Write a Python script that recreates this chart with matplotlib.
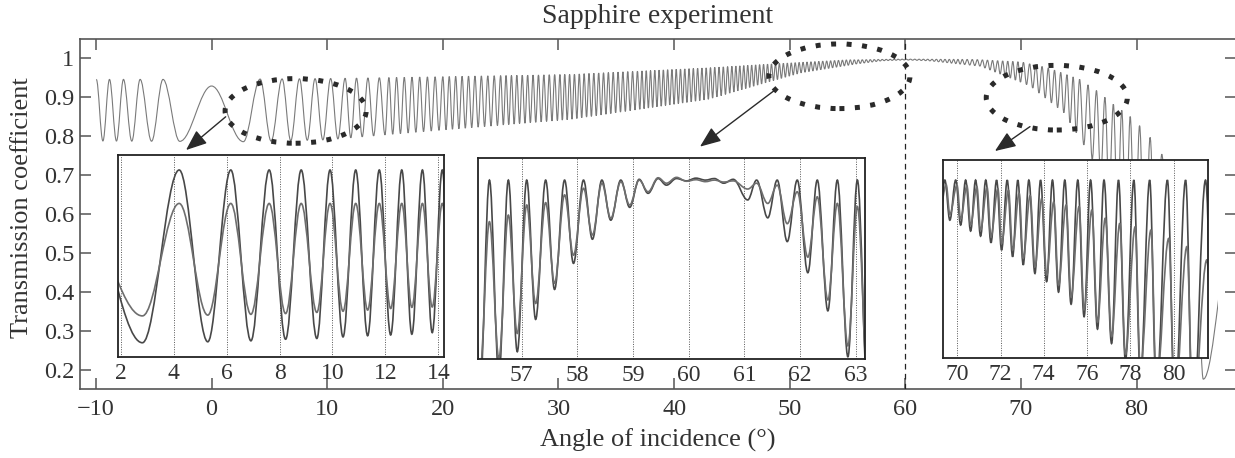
import numpy as np
import matplotlib
matplotlib.use("Agg")
import matplotlib.pyplot as plt
from matplotlib.path import Path
from matplotlib.patches import PathPatch, Ellipse, FancyArrowPatch, Rectangle

plt.rcParams['font.family'] = ['Liberation Serif', 'DejaVu Serif']
plt.rcParams['axes.unicode_minus'] = True

# ---------------- data ----------------
title = "Sapphire experiment"
x_label = "Angle of incidence (°)"
y_label = "Transmission coefficient"

x_ticks = [-10, 0, 10, 20, 30, 40, 50, 60, 70, 80]
y_ticks = [0.2, 0.3, 0.4, 0.5, 0.6, 0.7, 0.8, 0.9, 1.0]
y_tick_labels = ["0.2", "0.3", "0.4", "0.5", "0.6", "0.7", "0.8", "0.9", "1"]

# main curve: fringe order (peaks at integer orders, troughs at half orders)
# read at anchor angles
main_order = [-5, -4, -3, -2, -1, -0.5, 0, 0.5, 1, 2, 3, 4, 5, 6, 9.5, 17, 26,
              36.7, 53.4, 75, 89.6, 104.3, 118.8, 132.2, 143.6, 152.9, 159,
              160, 161, 162, 164.5, 165]
main_order_angle = [-9.97, -8.83, -7.62, -6.18, -4.2, -2.75, 0, 2.75, 4.2, 6.1,
                    7.6, 8.95, 10.3, 11.55, 15, 20, 25, 30, 37, 45, 50, 55, 60,
                    65, 70, 75, 79.45, 80.26, 81.17, 82.18, 85.77, 88.3]
main_first_order = -5
main_last_order = 165
main_end_angle = 87.0
# envelope of the maxima / minima
main_upper_angle = [-10, -1, 0, 1, 10, 20, 31, 43, 48, 55, 60, 66, 70, 72.3,
                    75.1, 76.6, 78, 79.4, 80.3, 81.2, 82.2, 85, 88.5]
main_upper = [0.945, 0.945, 0.928, 0.945, 0.947, 0.952, 0.958, 0.975, 0.984,
              0.995, 0.997, 0.996, 0.99, 0.975, 0.945, 0.915, 0.881, 0.851,
              0.825, 0.795, 0.752, 0.66, 0.55]
main_lower_angle = [-10, 3, 10, 20, 31, 43, 48, 51, 55.6, 58, 60, 62, 66.5,
                    70.8, 73.7, 76, 80, 84, 85.8, 88.5]
main_lower = [0.787, 0.785, 0.79, 0.815, 0.842, 0.894, 0.937, 0.962, 0.984,
              0.993, 0.995, 0.993, 0.979, 0.928, 0.86, 0.75, 0.5, 0.25, 0.174,
              0.15]
brewster_angle = 60

# inset 1 (2-14 deg): alternating extrema
ins1_ticks = [2, 4, 6, 8, 10, 12, 14]
ins1_angle = [0.5, 2.82, 4.21, 5.29, 6.16, 6.92, 7.61, 8.23, 8.82, 9.41, 9.91,
              10.40, 10.88, 11.33, 11.77, 12.20, 12.62, 13.0, 13.40, 13.77,
              14.15, 14.5]
ins1_dark = [0.665, 0.270, 0.714, 0.2725, 0.714, 0.275, 0.714, 0.279, 0.714,
             0.281, 0.714, 0.285, 0.714, 0.288, 0.714, 0.290, 0.714, 0.292,
             0.714, 0.296, 0.714, 0.300]
ins1_light = [0.596, 0.339, 0.628, 0.341, 0.628, 0.343, 0.628, 0.345, 0.628,
              0.348, 0.628, 0.351, 0.628, 0.354, 0.628, 0.358, 0.628, 0.361,
              0.628, 0.362, 0.628, 0.365]

# inset 2 (57-63 deg)
ins2_ticks = [57, 58, 59, 60, 61, 62, 63]
ins2_angle = [56.08, 56.25, 56.42, 56.59, 56.76, 56.92, 57.09, 57.25, 57.43,
              57.59, 57.77, 57.93, 58.11, 58.27, 58.44, 58.60, 58.78, 58.94,
              59.11, 59.27, 59.45, 59.60, 59.78, 59.96, 60.13, 60.30, 60.46,
              60.63, 60.80, 61.06, 61.22, 61.42, 61.59, 61.77, 61.95, 62.14,
              62.31, 62.50, 62.67, 62.86, 63.03, 63.22]
ins2_dark = [0.688, 0.15, 0.688, 0.19, 0.688, 0.247, 0.688, 0.330, 0.688, 0.407,
             0.688, 0.474, 0.688, 0.536, 0.688, 0.585, 0.688, 0.618, 0.690,
             0.654, 0.692, 0.675, 0.692, 0.686, 0.693, 0.688, 0.692, 0.680,
             0.690, 0.637, 0.688, 0.591, 0.688, 0.530, 0.688, 0.450, 0.688,
             0.352, 0.688, 0.234, 0.688, 0.12]
ins2_light = [0.57, 0.20, 0.581, 0.23, 0.598, 0.294, 0.624, 0.371, 0.630, 0.423,
              0.650, 0.495, 0.667, 0.547, 0.680, 0.590, 0.684, 0.624, 0.688,
              0.658, 0.694, 0.680, 0.695, 0.685, 0.689, 0.684, 0.688, 0.683,
              0.686, 0.665, 0.680, 0.628, 0.675, 0.576, 0.658, 0.490, 0.645,
              0.380, 0.628, 0.262, 0.620, 0.16]

# inset 3 (70-80 deg)
ins3_ticks = [70, 72, 74, 76, 78, 80]
ins3_angle = [69.20, 69.43, 69.66, 69.93, 70.16, 70.39, 70.62, 70.85, 71.08,
              71.32, 71.56, 71.82, 72.05, 72.31, 72.56, 72.80, 73.05, 73.31,
              73.59, 73.85, 74.13, 74.40, 74.68, 74.97, 75.26, 75.57, 75.86,
              76.16, 76.48, 76.78, 77.13, 77.45, 77.77, 78.16, 78.46, 78.89,
              79.20, 79.71, 80.05, 80.55, 80.89, 81.47, 81.90]
ins3_dark = [0.60, 0.688, 0.585, 0.688, 0.5725, 0.688, 0.557, 0.688, 0.544,
             0.688, 0.527, 0.688, 0.508, 0.688, 0.491, 0.688, 0.470, 0.688,
             0.448, 0.688, 0.427, 0.688, 0.400, 0.688, 0.369, 0.688, 0.337,
             0.688, 0.305, 0.688, 0.268, 0.688, 0.225, 0.688, 0.18, 0.688,
             0.14, 0.688, 0.10, 0.688, 0.06, 0.688, 0.02]
ins3_light = [0.61, 0.676, 0.60, 0.675, 0.588, 0.673, 0.573, 0.671, 0.56,
              0.669, 0.543, 0.666, 0.525, 0.662, 0.508, 0.654, 0.487, 0.648,
              0.465, 0.641, 0.444, 0.632, 0.418, 0.624, 0.387, 0.620, 0.355,
              0.611, 0.323, 0.590, 0.286, 0.577, 0.24, 0.568, 0.20, 0.560,
              0.16, 0.538, 0.12, 0.517, 0.08, 0.483, 0.04]
ins3_light_peak_shift = 0.06

# ---------------- helpers ----------------
def extrema_path(xs, ys, k=0.3642):
    """Smooth path through alternating extrema (horizontal tangents)."""
    verts = [(xs[0], ys[0])]
    codes = [Path.MOVETO]
    for x0, y0, x1, y1 in zip(xs[:-1], ys[:-1], xs[1:], ys[1:]):
        d = x1 - x0
        verts += [(x0 + k * d, y0), (x1 - k * d, y1), (x1, y1)]
        codes += [Path.CURVE4] * 3
    return Path(verts, codes)


TXT = '#333333'
W, H = 1235, 458
fig = plt.figure(figsize=(W / 100, H / 100), dpi=100)

def fig_rect(l, t, r, b):
    return [l / W, 1 - b / H, (r - l) / W, (b - t) / H]

# ---------------- main axes ----------------
ax = fig.add_axes(fig_rect(80, 38.5, 1236, 389))
ax.set_xlim(-11.38, 88.6)
ax.set_ylim(0.15, 1.05)

orders = np.arange(main_first_order, main_last_order + 0.25, 0.5)
m_ang = np.interp(orders, main_order, main_order_angle)
is_peak = np.isclose(orders % 1, 0)
m_val = np.where(is_peak, np.interp(m_ang, main_upper_angle, main_upper),
                 np.interp(m_ang, main_lower_angle, main_lower))
main_patch = PathPatch(extrema_path(m_ang, m_val), fill=False,
                       edgecolor='#7a7a7a', lw=0.8, zorder=2)
ax.add_patch(main_patch)
clip = Rectangle((-20, 0.15), main_end_angle + 20, 0.9, transform=ax.transData)
main_patch.set_clip_path(clip)

ax.axvline(brewster_angle, color='#222222', lw=0.9, ls=(0, (4.5, 3.5)), zorder=3)

for (cx, cy) in [(7.27, 0.864), (54.3, 0.953), (73.1, 0.898)]:
    e = Ellipse((cx, cy), 12.2, 0.166, fill=False, edgecolor='#2a2a2a',
                lw=3.6, ls=(0, (1, 2.1)), capstyle='butt', zorder=4)
    ax.add_patch(e)

for (p0, p1) in [((1.22, 0.849), (-2.21, 0.7636)),
                 ((48.81, 0.9196), (42.24, 0.7723)),
                 ((70.78, 0.8237), (67.75, 0.761))]:
    a = FancyArrowPatch(p0, p1, arrowstyle='-|>,head_length=0.8,head_width=0.32',
                        mutation_scale=16, color='#2a2a2a', lw=1.0,
                        shrinkA=0, shrinkB=0, zorder=5)
    ax.add_patch(a)

ax.set_xticks(x_ticks)
ax.set_yticks(y_ticks)
ax.set_yticklabels(y_tick_labels)
ax.tick_params(direction='in', length=8, width=1.1, color='#555555',
               top=True, right=True, labelsize=17.5, labelcolor=TXT)
ax.tick_params(axis='x', pad=7)
ax.tick_params(axis='y', pad=4)
for s in ax.spines.values():
    s.set_color('#555555')
    s.set_linewidth(1.2)

ax.set_title(title, fontsize=20, color=TXT, pad=11)
ax.set_xlabel(x_label, fontsize=19, color=TXT, va='center')
ax.xaxis.set_label_coords(0.5, (389 - 440) / 350.5)
ax.set_ylabel(y_label, fontsize=19, color=TXT, va='center', ha='center')
ax.yaxis.set_label_coords((22 - 80) / 1156, (389 - 207.5) / 350.5)

# ---------------- insets ----------------
def make_inset(rect, xlim, ylim, ticks, xs, dark, light, light_x=None):
    ia = fig.add_axes(rect)
    ia.set_facecolor('white')
    ia.set_xlim(*xlim)
    ia.set_ylim(*ylim)
    ia.set_xticks(ticks)
    ia.set_yticks([])
    ia.tick_params(length=0, labelsize=17, pad=4, labelcolor=TXT)
    ia.grid(axis='x', color='#555555', lw=0.7, ls=(0, (1, 1.5)))
    ia.set_axisbelow(True)
    for s in ia.spines.values():
        s.set_color('#222222')
        s.set_linewidth(1.3)
    ia.add_patch(PathPatch(extrema_path(xs, dark), fill=False,
                           edgecolor='#484848', lw=1.2, zorder=2))
    lx = xs if light_x is None else light_x
    ia.add_patch(PathPatch(extrema_path(lx, light), fill=False,
                           edgecolor='#6e6e6e', lw=1.2, zorder=2))
    return ia

make_inset(fig_rect(117.7, 155, 444, 357.3), (1.887, 14.215), (0.2326, 0.7525),
           ins1_ticks, ins1_angle, ins1_dark, ins1_light)
make_inset(fig_rect(478.3, 158.3, 865, 359.3), (56.22, 63.167), (0.2275, 0.744),
           ins2_ticks, ins2_angle, ins2_dark, ins2_light)
ins3_light_angle = [a + (ins3_light_peak_shift if i % 2 == 1 else 0.0)
                    for i, a in enumerate(ins3_angle)]
make_inset(fig_rect(942.7, 159.7, 1207.7, 358.3), (69.33, 81.57), (0.230, 0.7404),
           ins3_ticks, ins3_angle, ins3_dark, ins3_light, ins3_light_angle)

fig.savefig('out.png', dpi=100)
